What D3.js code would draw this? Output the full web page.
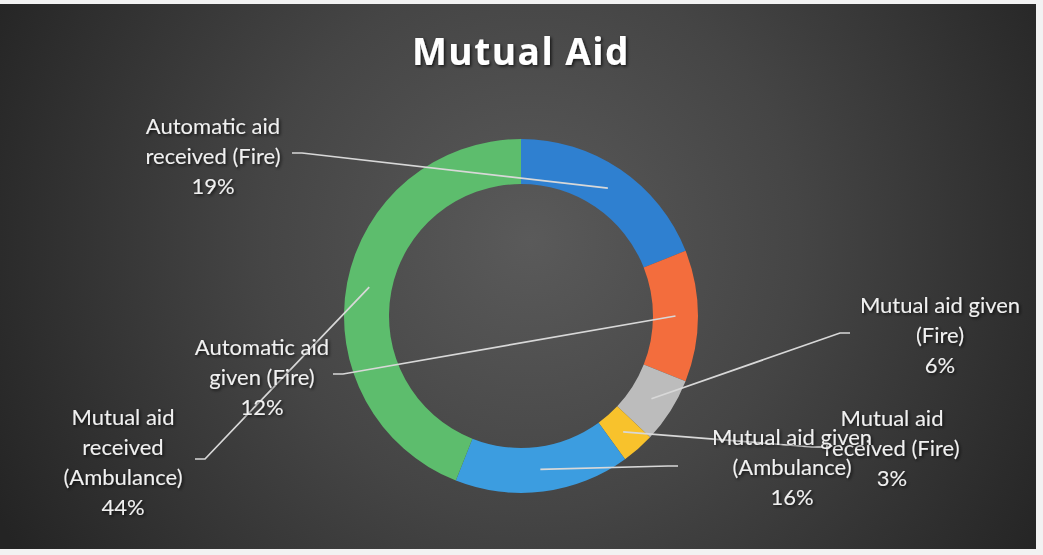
<!DOCTYPE html>
<html>
<head>
<meta charset="utf-8" />
<title>Mutual Aid</title>
<script src="https://d3js.org/d3.v7.min.js" charset="utf-8"></script>
<style>
    body { margin: 0; background: #f2f2f2; }
    .label { font-family: "Lato", sans-serif; font-size: 22px; fill: #f0f0f0; }
    .title { font-family: "Open Sans", sans-serif; font-weight: bold; font-size: 37px; letter-spacing: 1.5px; fill: #ffffff; }
    .leader { fill: none; stroke: #d8d8d8; stroke-width: 1.7; }
</style>
</head>
<body>
<div id="graphic"></div>
<script>
    // slices, clockwise from 12 o'clock
    var categories = ["Automatic aid received (Fire)", "Automatic aid given (Fire)", "Mutual aid given (Fire)",
                      "Mutual aid received (Fire)", "Mutual aid given (Ambulance)", "Mutual aid received (Ambulance)"];
    var values = [19, 12, 6, 3, 16, 44];
    var labelLines = [["Automatic aid", "received (Fire)"], ["Automatic aid", "given (Fire)"], ["Mutual aid given", "(Fire)"],
                      ["Mutual aid", "received (Fire)"], ["Mutual aid given", "(Ambulance)"], ["Mutual aid", "received", "(Ambulance)"]];
    var colors = ["#2f80d0", "#f36d3d", "#bcbcbc", "#f8c22c", "#3c9de0", "#5dbd6d"];

    // label placement (text centre x, first line y) and leader end point
    var labelPos = [[213, 134, 292, 153], [262, 355, 333, 374], [940, 313, 850, 333],
                    [892, 426, 822, 447], [792, 445, 678, 466], [123, 425, 195, 459]];

    var W = 1043, H = 555;
    var cx = 521, cy = 316, rOut = 177, rIn = 132;

    var svg = d3.select("#graphic").append("svg")
        .attr("width", W)
        .attr("height", H);

    var defs = svg.append("defs");
    var grad = defs.append("radialGradient")
        .attr("id", "bg")
        .attr("gradientUnits", "userSpaceOnUse")
        .attr("cx", 530).attr("cy", 240).attr("r", 600);
    grad.append("stop").attr("offset", "0%").attr("stop-color", "#5a5a5a");
    grad.append("stop").attr("offset", "45%").attr("stop-color", "#454545");
    grad.append("stop").attr("offset", "100%").attr("stop-color", "#242424");

    var shadow = defs.append("filter").attr("id", "shadow");
    shadow.append("feDropShadow")
        .attr("dx", 1.5).attr("dy", 1.5).attr("stdDeviation", 1.5)
        .attr("flood-color", "#000").attr("flood-opacity", 0.7);

    svg.append("rect")
        .attr("x", 0).attr("y", 4)
        .attr("width", 1036).attr("height", 545)
        .attr("fill", "url(#bg)");

    svg.append("text")
        .attr("class", "title")
        .attr("x", cx)
        .attr("y", 65)
        .attr("text-anchor", "middle")
        .attr("filter", "url(#shadow)")
        .text("Mutual Aid");

    var data = categories.map(function (c, i) {
        return { name: c, value: values[i], lines: labelLines[i], pos: labelPos[i] };
    });

    var pie = d3.pie().sort(null).value(function (d) { return d.value; });
    var arc = d3.arc().innerRadius(rIn).outerRadius(rOut);

    var g = svg.append("g").attr("transform", "translate(" + cx + "," + cy + ")");

    var arcs = pie(data);

    g.selectAll(".slice")
        .data(arcs)
        .enter()
        .append("path")
        .attr("class", "slice")
        .attr("d", arc)
        .attr("fill", function (d, i) { return colors[i]; });

    // leader lines from the slice centroid to the label
    g.selectAll(".leader")
        .data(arcs)
        .enter()
        .append("path")
        .attr("class", "leader")
        .attr("d", function (d) {
            var c = arc.centroid(d);
            var p = d.data.pos;
            var ex = p[2] - cx, ey = p[3] - cy;
            var side = ex < c[0] ? 1 : -1;
            return "M" + c[0] + "," + c[1] + "L" + (ex + side * 10) + "," + ey + "L" + ex + "," + ey;
        });

    var labels = svg.selectAll(".label")
        .data(data)
        .enter()
        .append("text")
        .attr("class", "label")
        .attr("text-anchor", "middle")
        .attr("filter", "url(#shadow)");

    labels.each(function (d) {
        var t = d3.select(this);
        var rows = d.lines.concat([d.value + "%"]);
        rows.forEach(function (r, k) {
            t.append("tspan")
                .attr("x", d.pos[0])
                .attr("y", d.pos[1] + k * 30)
                .text(r);
        });
    });
</script>
</body>
</html>
